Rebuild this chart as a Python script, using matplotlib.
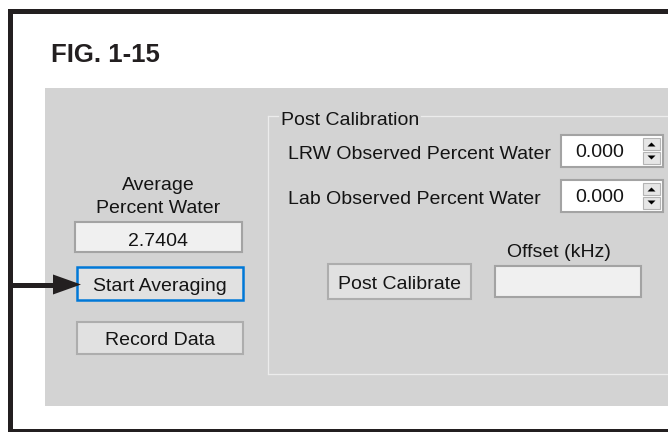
import matplotlib.pyplot as plt
from matplotlib.patches import Rectangle, Polygon

# texts / values shown in the screen capture
fig_title = "FIG. 1-15"
avg_label = ["Average", "Percent Water"]
avg_value = 2.7404
button_labels = ["Start Averaging", "Record Data", "Post Calibrate"]
group_title = "Post Calibration"
water_labels = ["LRW Observed Percent Water", "Lab Observed Percent Water"]
water_values = [0.000, 0.000]
offset_label = "Offset (kHz)"
offset_value = ""

# colours
ink = '#231f20'
txt = '#141414'
panel = '#d3d3d3'
btn = '#e1e1e1'
field = '#f0f0f0'
edge = '#a3a3a3'

plt.rcParams['font.family'] = ['Liberation Sans', 'DejaVu Sans']

fig = plt.figure(figsize=(6.68, 4.32), dpi=100)
ax = fig.add_axes([0, 0, 1, 1])
ax.set_xlim(0, 668)
ax.set_ylim(432, 0)
ax.axis('off')

# outer figure frame (open on the right side)
ax.add_patch(Rectangle((8, 9), 660, 5, color=ink, lw=0))
ax.add_patch(Rectangle((8, 9), 5, 423, color=ink, lw=0))
ax.add_patch(Rectangle((8, 429), 660, 3, color=ink, lw=0))

ax.text(51, 62, fig_title, fontsize=18.5, fontweight='bold', color=ink, va='baseline', ha='left')

# grey window panel
ax.add_patch(Rectangle((45, 88), 623, 318, color=panel, lw=0))

# left column
ax.text(158, 190, avg_label[0], fontsize=14, color=txt, ha='center', va='baseline')
ax.text(158, 213, avg_label[1], fontsize=14, color=txt, ha='center', va='baseline')
ax.add_patch(Rectangle((75, 222), 167, 30, facecolor=field, edgecolor=edge, lw=1.5))
ax.text(158, 246, "{:.4f}".format(avg_value), fontsize=14, color=txt, ha='center', va='baseline')

ax.add_patch(Rectangle((77, 267), 166, 33, facecolor=btn, edgecolor='#0078d7', lw=1.8))
ax.text(160, 291, button_labels[0], fontsize=14, color=txt, ha='center', va='baseline')
ax.add_patch(Rectangle((77, 322), 166, 32, facecolor=btn, edgecolor='#adadad', lw=1.5))
ax.text(160, 345, button_labels[1], fontsize=14, color=txt, ha='center', va='baseline')

# arrow pointing at Start Averaging
ax.plot([12, 58], [284.5, 284.5], color=ink, lw=3.6, solid_capstyle='butt')
ax.add_patch(Polygon([(53, 274.5), (81, 284.5), (53, 294.5)], closed=True, color=ink, lw=0))

# group box "Post Calibration"
gline = '#ececec'
ax.plot([268, 278], [116, 116], color=gline, lw=0.9)
ax.plot([421, 668], [116, 116], color=gline, lw=0.9)
ax.plot([268, 268], [116, 374], color=gline, lw=0.9)
ax.plot([268, 668], [374, 374], color=gline, lw=0.9)
ax.text(281, 125, group_title, fontsize=14, color=txt, ha='left', va='baseline')

rows_top = [135, 180]
for i in range(len(water_labels)):
    top = rows_top[i]
    ax.text(288, top + 24, water_labels[i], fontsize=14, color=txt, ha='left', va='baseline')
    ax.add_patch(Rectangle((561, top), 102, 32, facecolor='white', edgecolor=edge, lw=1.5))
    ax.text(600, top + 22, "{:.3f}".format(water_values[i]), fontsize=14, color=txt,
            ha='center', va='baseline')
    # spinner buttons
    ax.add_patch(Rectangle((643, top + 3), 17, 12, facecolor='#e6e6e6', edgecolor='#b4b4b4', lw=0.8))
    ax.add_patch(Rectangle((643, top + 17), 17, 12, facecolor='#e6e6e6', edgecolor='#b4b4b4', lw=0.8))
    ax.add_patch(Polygon([(647.5, top + 11.5), (655.5, top + 11.5), (651.5, top + 7.5)],
                         closed=True, color='black', lw=0))
    ax.add_patch(Polygon([(647.5, top + 20.5), (655.5, top + 20.5), (651.5, top + 24.5)],
                         closed=True, color='black', lw=0))

ax.add_patch(Rectangle((328, 264), 143, 35, facecolor=btn, edgecolor='#adadad', lw=1.5))
ax.text(399, 289, button_labels[2], fontsize=14, color=txt, ha='center', va='baseline')

ax.text(559, 257, offset_label, fontsize=14, color=txt, ha='center', va='baseline')
ax.add_patch(Rectangle((495, 266), 146, 31, facecolor=field, edgecolor=edge, lw=1.5))
ax.text(568, 288, offset_value, fontsize=14, color=txt, ha='center', va='baseline')

fig.savefig('out.png', dpi=100)
